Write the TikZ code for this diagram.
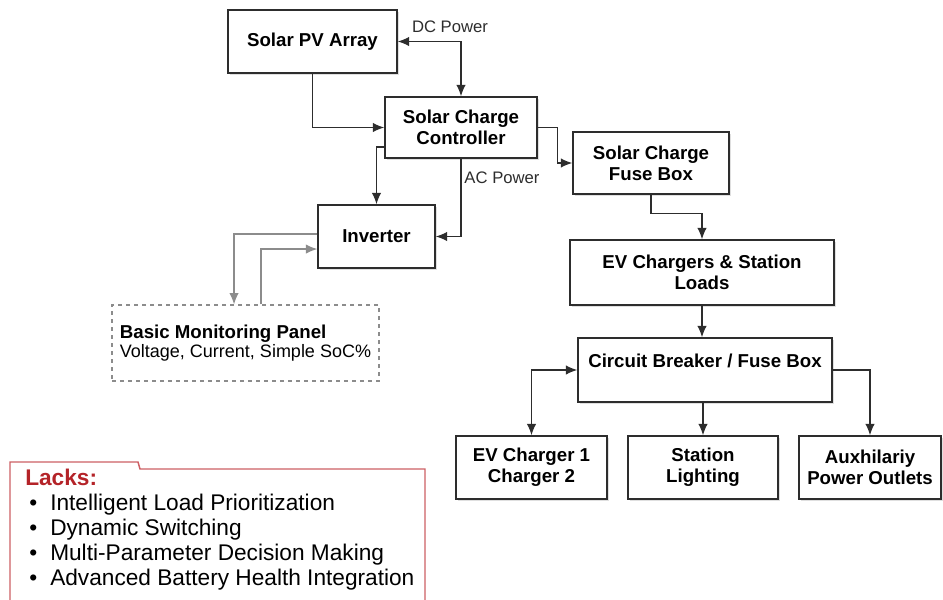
\documentclass[tikz,border=0pt]{standalone}
\usepackage{fontspec}
\setmainfont{Liberation Sans}
\usetikzlibrary{positioning,arrows.meta,calc,shadows}

\definecolor{linegray}{RGB}{45,45,45}
\definecolor{softgray}{RGB}{140,140,140}
\definecolor{lacksred}{RGB}{180,35,40}
\definecolor{lacksedge}{RGB}{205,95,100}

\begin{document}
\begin{tikzpicture}[
    x=0.75pt, y=-0.75pt,
    >={Latex[length=8.5pt,width=7pt]},
    box/.style={rectangle, draw=linegray, line width=1.1pt, fill=white, align=center, inner sep=2pt,
        font=\bfseries\fontsize{14}{16}\selectfont,
        drop shadow={shadow xshift=1.2pt, shadow yshift=-1.2pt, opacity=0.25}},
    panel/.style={rectangle, draw=softgray, dashed, line width=0.9pt, align=left, inner sep=2pt},
    wire/.style={draw=linegray, line width=0.9pt},
    feed/.style={draw=softgray, line width=0.9pt},
    tag/.style={font=\fontsize{12.5}{14}\selectfont, text=linegray},
]
\useasboundingbox (0,0) rectangle (943,600);

% Generation side
\node[box, minimum width=126.75pt, minimum height=47.25pt] (pv) at (312.5,41.5) {Solar PV Array};
\node[box, minimum width=114pt, minimum height=45.75pt] (scc) at (461,127.5) {Solar Charge\\Controller};
\node[box, minimum width=87.75pt, minimum height=47.25pt] (inv) at (376.5,236.5) {Inverter};

% Monitoring
\node[panel, minimum width=200.25pt, minimum height=57pt] (panel) at (245.5,343)
    {{\bfseries\fontsize{14}{16.5}\selectfont Basic Monitoring Panel}\\
     {\fontsize{13.5}{16.5}\selectfont Voltage, Current, Simple SoC\%}};

% Load side
\node[box, minimum width=117pt, minimum height=46.5pt] (sfb) at (651,163) {Solar Charge\\Fuse Box};
\node[box, minimum width=198pt, minimum height=48.75pt] (ev) at (702,272.5) {EV Chargers \& Station\\Loads};
\node[box, minimum width=190.5pt, minimum height=48pt, text depth=13.5pt] (cb) at (705,370) {Circuit Breaker / Fuse Box};

% Bottom row
\node[box, minimum width=113.25pt, minimum height=47.25pt] (ev1) at (531.5,467.5) {EV Charger 1\\Charger 2};
\node[box, minimum width=112.5pt, minimum height=47.25pt] (light) at (703,467.5) {Station\\Lighting};
\node[box, minimum width=106.5pt, minimum height=47.25pt] (aux) at (870,467.5) {Auxhilariy\\Power Outlets};

% Arrows
\draw[wire,<->] (pv.east) -| (scc.north);
\draw[wire,->] (pv.south) |- (scc.west);
\draw[wire,->] ([yshift=-14.6pt]scc.west) -| (inv.north);
\draw[wire,->] (scc.south) |- (inv.east);
\draw[feed,->] ([yshift=1.9pt]inv.west) -| ([xshift=-8.6pt]panel.north);
\draw[feed,->] ([xshift=11.6pt]panel.north) |- ([yshift=-9.4pt]inv.west);
\draw[wire,->] (scc.east) -- ++(20,0) |- (sfb.west);
\draw[wire,->] (sfb.south) -- ++(0,19) -| (ev.north);
\draw[wire,->] (ev.south) -- (ev.south |- cb.north);
\draw[wire,<->] (cb.west) -| (ev1.north);
\draw[wire,->] (light.north |- cb.south) -- (light.north);
\draw[wire,->] (cb.east) -| (aux.north);

% Labels
\node[tag] (dc) at (450,27) {DC Power};
\node[tag] (ac) at (502,178) {AC Power};

% Lacks box
\draw[draw=lacksedge, line width=1.1pt] (10,602) -- (10,462) -- (138,462) -- (140,469) -- (425,469) -- (425,602);
\node[anchor=north west, inner sep=0pt, align=left, font=\fontsize{17}{18.75}\selectfont] (lacks) at (25,469)
    {{\bfseries\fontsize{17}{18.75}\selectfont\color{lacksred}Lacks:}\\
     \makebox[18.75pt][l]{\hspace{3pt}\textbullet}Intelligent Load Prioritization\\
     \makebox[18.75pt][l]{\hspace{3pt}\textbullet}Dynamic Switching\\
     \makebox[18.75pt][l]{\hspace{3pt}\textbullet}Multi-Parameter Decision Making\\
     \makebox[18.75pt][l]{\hspace{3pt}\textbullet}Advanced Battery Health Integration};

\end{tikzpicture}
\end{document}
